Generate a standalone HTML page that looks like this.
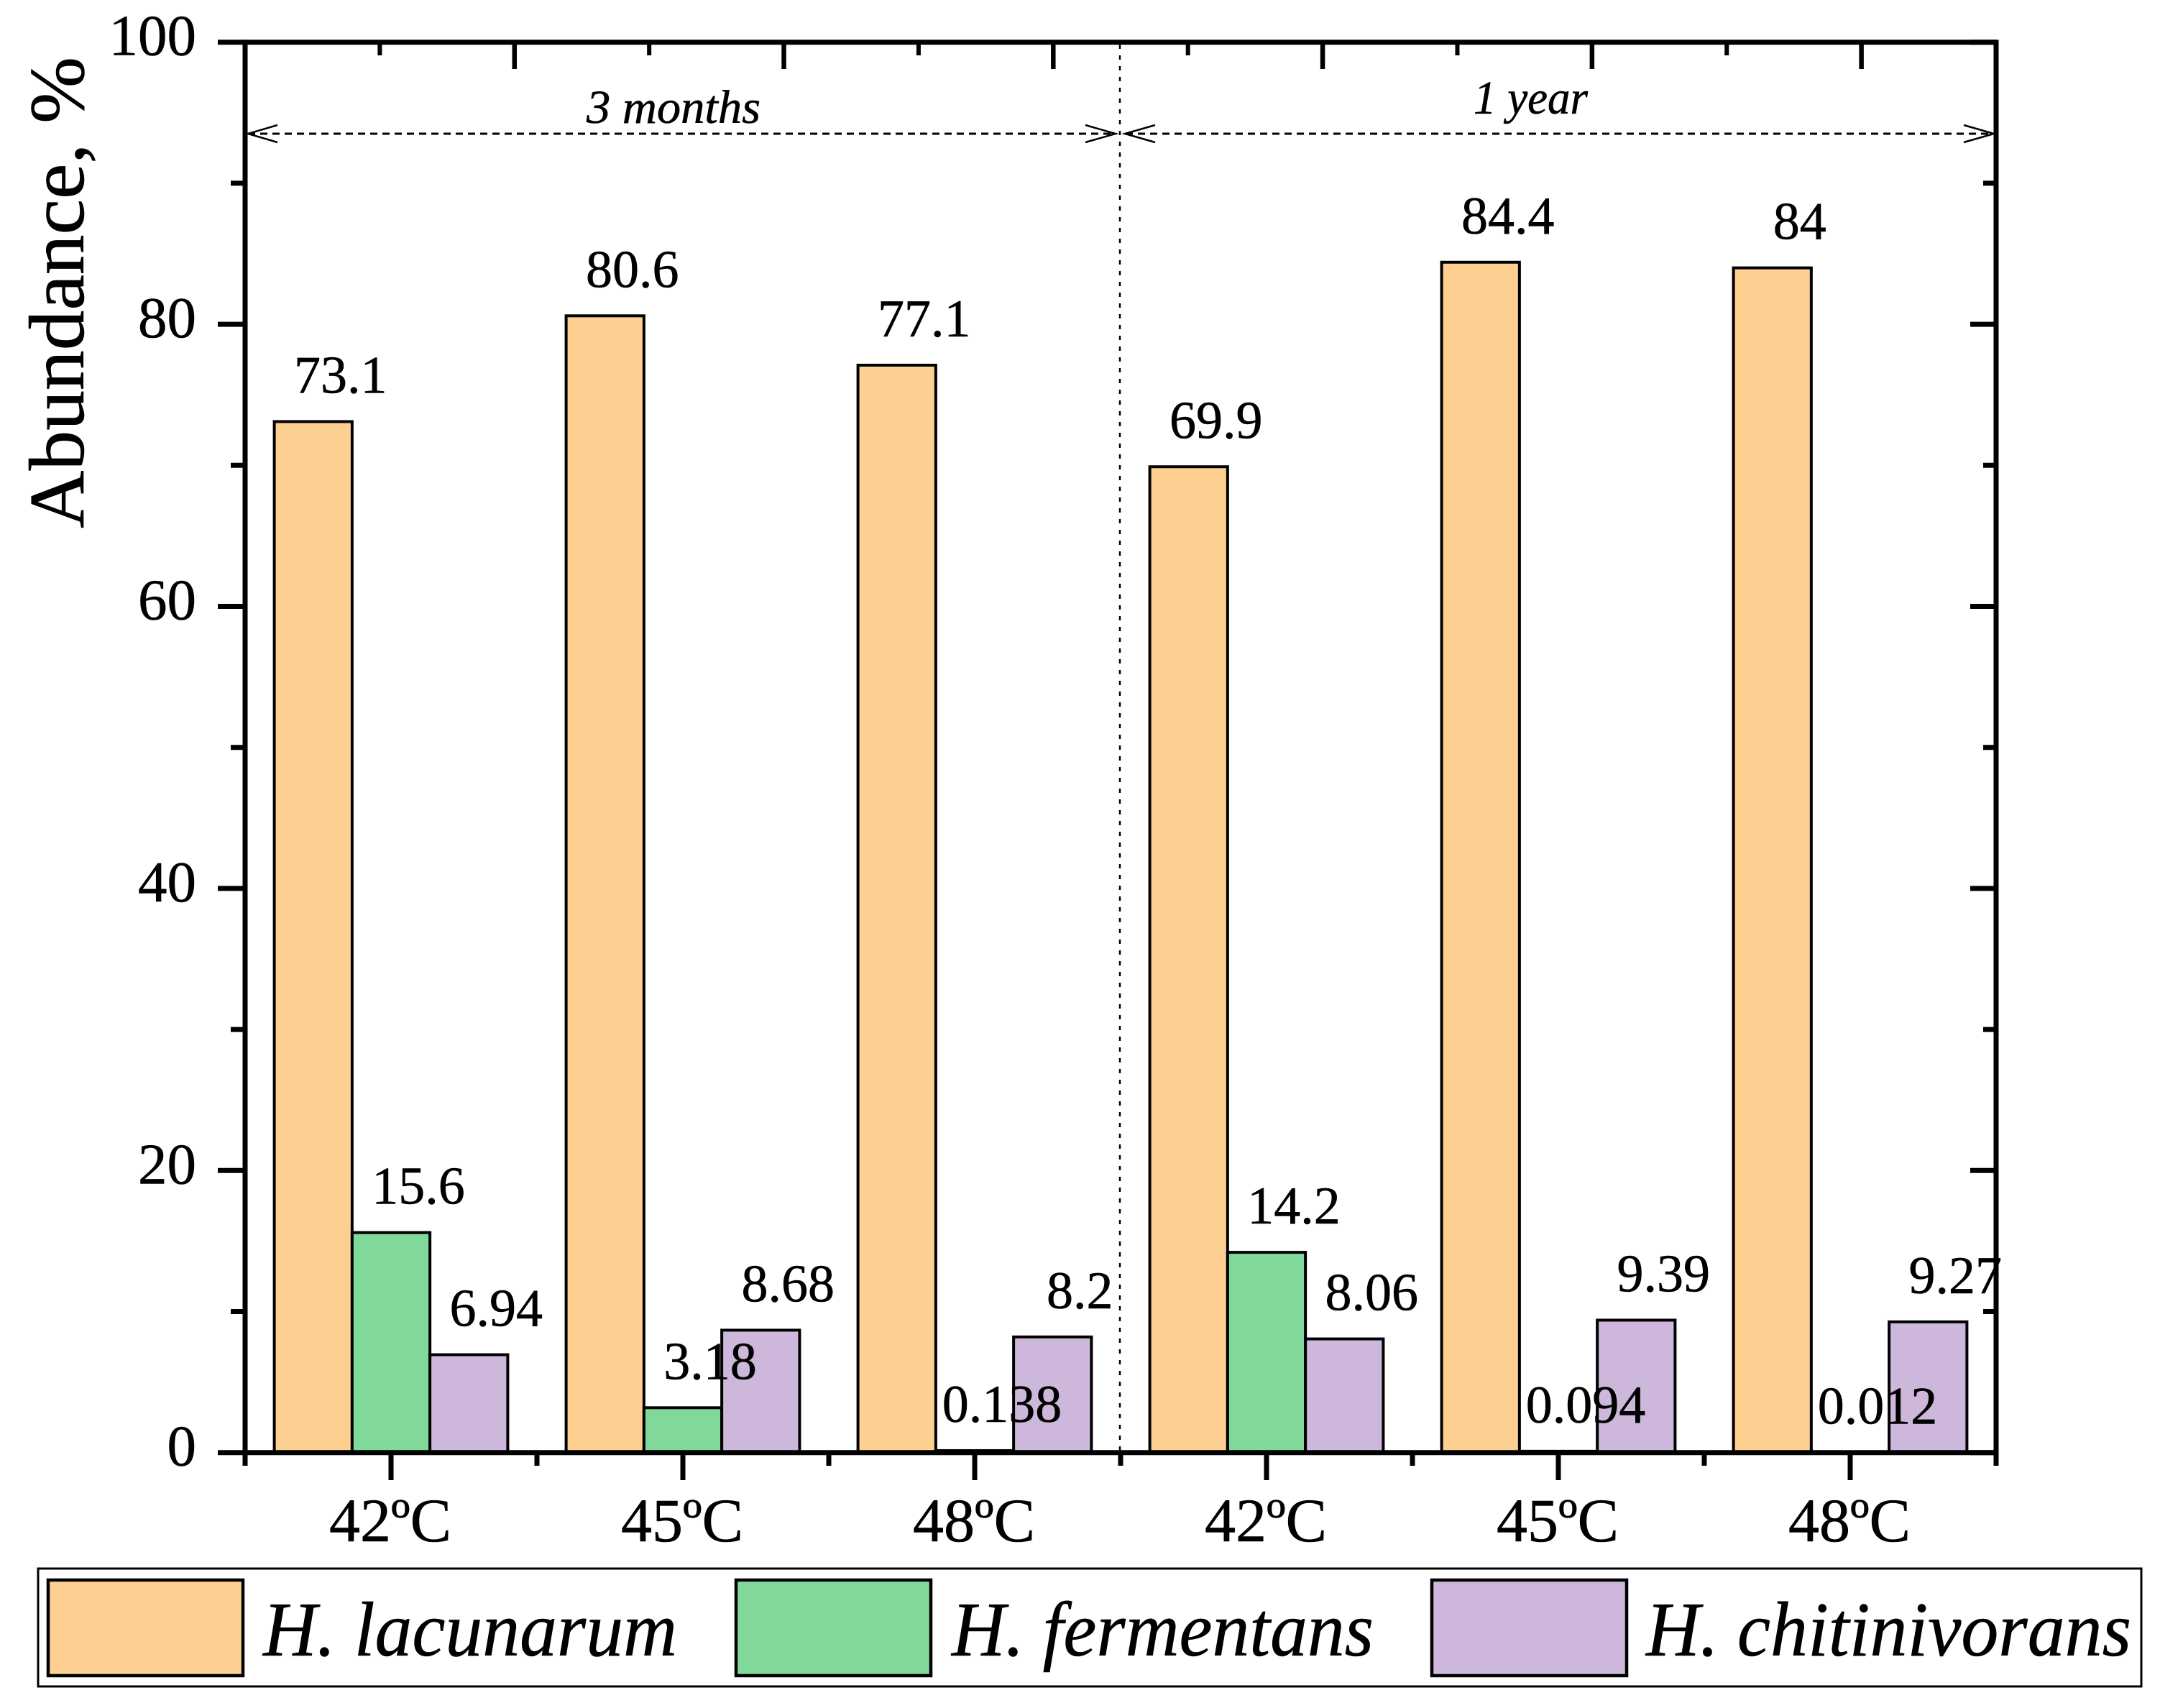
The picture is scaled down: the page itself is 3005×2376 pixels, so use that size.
<!DOCTYPE html>
<html lang="en">
<head>
<meta charset="utf-8">
<title>Abundance chart</title>
<style>
html,body{margin:0;padding:0;background:#fff;}
svg{display:block;}
text{font-family:"Liberation Serif",serif;fill:#000;stroke:#000;stroke-width:0.6px;}
</style>
</head>
<body>
<svg id="chart" xmlns="http://www.w3.org/2000/svg" width="3005" height="2376" viewBox="0 0 3005 2376">
  <rect x="0" y="0" width="3005" height="2376" fill="#ffffff"/>
  <g id="bars"></g>
  <line x1="1558" y1="62" x2="1558" y2="2020" stroke="#000" stroke-width="2.5" stroke-dasharray="6 9"/>
  <g fill="none" stroke="#000">
    <line x1="345" y1="186" x2="1550" y2="186" stroke-width="3" stroke-dasharray="10 7"/>
    <polyline points="386,174 345,186 386,198" stroke-width="2.5"/>
    <polyline points="1510,174 1552,186 1510,198" stroke-width="2.5"/>
  </g>
  <g fill="none" stroke="#000">
    <line x1="1566" y1="186" x2="2773" y2="186" stroke-width="3" stroke-dasharray="10 7"/>
    <polyline points="1607,174 1565,186 1607,198" stroke-width="2.5"/>
    <polyline points="2732,174 2774,186 2732,198" stroke-width="2.5"/>
  </g>
  <text x="816" y="171" font-size="66" font-style="italic" textLength="242" lengthAdjust="spacingAndGlyphs">3 months</text>
  <text x="2050" y="158" font-size="66" font-style="italic" textLength="159" lengthAdjust="spacingAndGlyphs">1 year</text>
  <g id="axes"></g>
  <g id="labels"></g>
  <text transform="translate(116,735) rotate(-90)" font-size="109" textLength="656" lengthAdjust="spacingAndGlyphs">Abundance, %</text>
  <g>
    <rect x="53" y="2182" width="2926" height="164" fill="#fff" stroke="#000" stroke-width="3"/>
    <g>
      <rect x="67" y="2198" width="271" height="133" fill="#FDCF90" stroke="#000" stroke-width="4.5"/>
      <text x="366" y="2303" font-size="108" font-style="italic" textLength="576" lengthAdjust="spacingAndGlyphs">H. lacunarum</text>
    </g>
    <g>
      <rect x="1024" y="2198" width="271" height="133" fill="#80D89A" stroke="#000" stroke-width="4.5"/>
      <text x="1324" y="2303" font-size="108" font-style="italic" textLength="587" lengthAdjust="spacingAndGlyphs">H. fermentans</text>
    </g>
    <g>
      <rect x="1992" y="2198" width="271" height="133" fill="#CDB7DA" stroke="#000" stroke-width="4.5"/>
      <text x="2290" y="2303" font-size="108" font-style="italic" textLength="675" lengthAdjust="spacingAndGlyphs">H. chitinivorans</text>
    </g>
  </g>
</svg>
<script>
// Chart data
var categories = ["42ºC", "45ºC", "48ºC", "42ºC", "45ºC", "48ºC"];
var seriesNames = ["h-lacunarum", "h-fermentans", "h-chitinivorans"];
var lacunarum = [73.1, 80.6, 77.1, 69.9, 84.4, 84];
var fermentans = [15.6, 3.18, 0.138, 14.2, 0.094, 0.012];
var chitinivorans = [6.94, 8.68, 8.2, 8.06, 9.39, 9.27];
var yMajorTicks = [0, 20, 40, 60, 80, 100];
var yMinorTicks = [10, 30, 50, 70, 90];

var seriesValues = [lacunarum, fermentans, chitinivorans];
var seriesColors = ["#FDCF90", "#80D89A", "#CDB7DA"];

// Axis functions
var plotLeft = 341, plotRight = 2777, plotTop = 58.7, plotBottom = 2020.7;
function yScale(v) { return plotBottom - v / 100 * (plotBottom - plotTop); }
function xScale(v) { return plotLeft + (v + 0.5) / categories.length * (plotRight - plotLeft); }
function topScale(k) { return plotLeft + k / 13 * (plotRight - plotLeft); }

var NS = "http://www.w3.org/2000/svg";
function mk(parent, tag, attrs) {
  var el = document.createElementNS(NS, tag);
  for (var k in attrs) { el.setAttribute(k, attrs[k]); }
  parent.appendChild(el);
  return el;
}
var barsG = document.getElementById("bars");
var axesG = document.getElementById("axes");
var labelsG = document.getElementById("labels");
var barW = 0.8 / 3;
var unit = (plotRight - plotLeft) / categories.length;

// Bars and their value labels
seriesValues.forEach(function (vals, s) {
  vals.forEach(function (v, c) {
    var x0 = xScale(c) + (s - 1.5) * barW * unit;
    var rect = mk(barsG, "rect", {
      x: x0, y: yScale(v), width: barW * unit, height: plotBottom - yScale(v),
      fill: seriesColors[s], stroke: "#000", "stroke-width": 4
    });
    
    
    var t = mk(labelsG, "text", {
      x: x0 + barW * unit / 2 + 38, y: yScale(v) - 40,
      "font-size": 74, "text-anchor": "middle"
    });
    t.textContent = String(v);
    
    
  });
});

function tick(x1, y1, x2, y2, w) {
  var l = mk(axesG, "line", { x1: x1, y1: y1, x2: x2, y2: y2, stroke: "#000", "stroke-width": w });
  
  
}

// Y ticks, left and right
yMajorTicks.forEach(function (v) {
  var y = yScale(v);
  tick(303, y, plotLeft, y, 7);
  tick(plotRight - 36, y, plotRight, y, 7);
  var t = mk(axesG, "text", { x: 273, y: y + 18, "font-size": 81, "text-anchor": "end" });
  t.textContent = String(v);
  
  
});
yMinorTicks.forEach(function (v) {
  var y = yScale(v);
  tick(321, y, plotLeft, y, 7);
  tick(plotRight - 18, y, plotRight, y, 7);
});

// X ticks and category labels
categories.forEach(function (c, i) {
  var x = xScale(i);
  tick(x, plotBottom, x, 2059, 7);
  var t = mk(axesG, "text", { x: x - 1, y: 2144, "font-size": 86, "text-anchor": "middle" });
  t.textContent = c;
  
  
});
for (var i = 0; i <= categories.length; i++) {
  var mx = xScale(i - 0.5);
  tick(mx, plotBottom, mx, 2039, 7);
}

// Top axis ticks (13 intervals, own spacing)
for (var k = 1; k < 13; k++) {
  var tx = topScale(k);
  if (k % 2 === 0) { tick(tx, plotTop, tx, 96, 6.5); } else { tick(tx, plotTop, tx, 77, 6); }
}

// Spines
var spines = [
  [plotLeft, plotTop - 3.5, plotLeft, plotBottom + 3.5],
  [plotRight, plotTop - 3.5, plotRight, plotBottom + 3.5],
  [plotLeft, plotTop, plotRight, plotTop],
  [plotLeft, plotBottom, plotRight, plotBottom]
];
spines.forEach(function (p) {
  var l = mk(axesG, "line", { x1: p[0], y1: p[1], x2: p[2], y2: p[3], stroke: "#000", "stroke-width": 7 });
  
  
});
</script>
</body>
</html>
